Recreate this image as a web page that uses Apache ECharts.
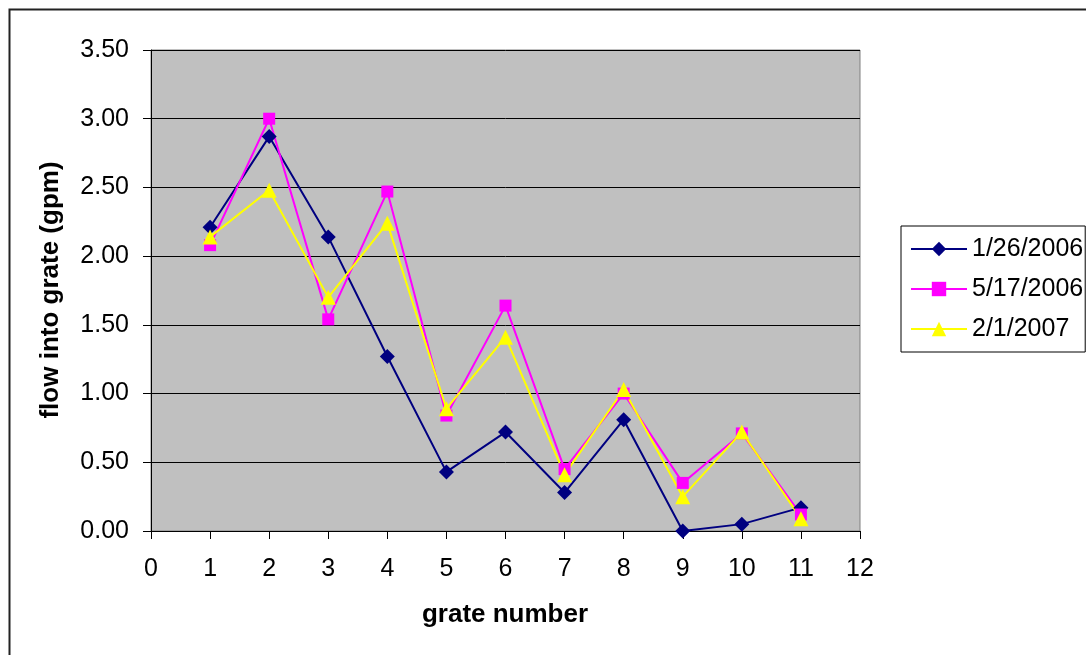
<!DOCTYPE html>
<html>
<head>
<meta charset="utf-8">
<script src="https://cdn.jsdelivr.net/npm/echarts@6/dist/echarts.min.js"></script>
<style>
  html, body { margin: 0; padding: 0; background: #fff; }
  #chart { width: 1086px; height: 655px; }
</style>
</head>
<body>
<div id="chart"></div>
<script>
// Grate numbers along the x axis
const grates = [1, 2, 3, 4, 5, 6, 7, 8, 9, 10, 11];

// Flow into each grate (gpm) per survey date
const seriesNames = ['1/26/2006', '5/17/2006', '2/1/2007'];
const flowJan2006 = [2.21, 2.87, 2.14, 1.27, 0.43, 0.72, 0.28, 0.81, 0.00, 0.05, 0.17];
const flowMay2006 = [2.08, 3.00, 1.54, 2.47, 0.84, 1.64, 0.45, 1.00, 0.35, 0.71, 0.12];
const flowFeb2007 = [2.14, 2.48, 1.70, 2.24, 0.89, 1.41, 0.41, 1.03, 0.25, 0.72, 0.09];

const xTitle = 'grate number';
const yTitle = 'flow into grate (gpm)';

const FONT = "'Liberation Sans', Arial, sans-serif";

function pairs(values) {
  return grates.map((g, i) => [g, values[i]]);
}

const chart = echarts.init(document.getElementById('chart'), null, { renderer: 'canvas' });

chart.setOption({
  animation: false,
  backgroundColor: '#ffffff',
  textStyle: { fontFamily: FONT },
  grid: {
    left: 151, top: 50, width: 709, height: 481,
    show: true,
    backgroundColor: '#C0C0C0',
    borderColor: '#808080',
    borderWidth: 1
  },
  xAxis: {
    type: 'value',
    min: 0, max: 12, interval: 1,
    axisLine: { show: true, lineStyle: { color: '#000', width: 1 } },
    axisTick: { show: true, length: 8, inside: false, lineStyle: { color: '#000' } },
    axisLabel: { margin: 26, fontSize: 25, color: '#000', fontFamily: FONT },
    splitLine: { show: false }
  },
  yAxis: {
    type: 'value',
    min: 0, max: 3.5, interval: 0.5,
    axisLine: { show: true, lineStyle: { color: '#000', width: 1 } },
    axisTick: { show: true, length: 8, inside: false, lineStyle: { color: '#000' } },
    axisLabel: {
      margin: 22, fontSize: 25, color: '#000', fontFamily: FONT,
      formatter: v => v.toFixed(2)
    },
    splitLine: { show: true, lineStyle: { color: '#000', width: 1 } }
  },
  legend: {
    orient: 'vertical',
    left: 901, top: 226,
    padding: [10, 2, 10, 9],
    itemWidth: 56, itemHeight: 18, itemGap: 14,
    backgroundColor: '#ffffff',
    borderColor: '#000', borderWidth: 1,
    textStyle: { fontSize: 25, lineHeight: 26, color: '#000', fontFamily: FONT },
    data: seriesNames
  },
  graphic: [
    {
      type: 'rect', silent: true, z: -10,
      shape: { x: 9.5, y: 9.5, width: 1200, height: 800 },
      style: { fill: 'none', stroke: '#222', lineWidth: 2 }
    },
    {
      type: 'text', silent: true,
      x: 505, y: 615,
      style: {
        text: xTitle, fontSize: 26, fontWeight: 'bold', fontFamily: FONT,
        fill: '#000', align: 'center', verticalAlign: 'middle'
      }
    },
    {
      type: 'text', silent: true,
      x: 51, y: 290, rotation: Math.PI / 2,
      style: {
        text: yTitle, fontSize: 26, fontWeight: 'bold', fontFamily: FONT,
        fill: '#000', align: 'center', verticalAlign: 'middle'
      }
    }
  ],
  series: [
    {
      name: seriesNames[0], type: 'line', data: pairs(flowJan2006),
      symbol: 'diamond', symbolSize: 15,
      itemStyle: { color: '#000080' },
      lineStyle: { color: '#000080', width: 2 }
    },
    {
      name: seriesNames[1], type: 'line', data: pairs(flowMay2006),
      symbol: 'rect', symbolSize: 12,
      itemStyle: { color: '#FF00FF' },
      lineStyle: { color: '#FF00FF', width: 2 }
    },
    {
      name: seriesNames[2], type: 'line', data: pairs(flowFeb2007),
      symbol: 'triangle', symbolSize: 15,
      itemStyle: { color: '#FFFF00' },
      lineStyle: { color: '#FFFF00', width: 2 }
    }
  ]
});
</script>
</body>
</html>
